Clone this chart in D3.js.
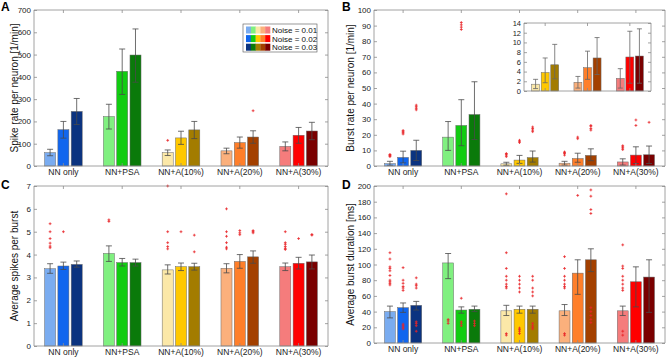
<!DOCTYPE html>
<html>
<head>
<meta charset="utf-8">
<script src="https://cdn.jsdelivr.net/npm/d3@7"></script>
<style>
  body { margin: 0; background: #fff; }
  svg { font-family: "Liberation Sans", Arial, sans-serif; }
</style>
</head>
<body>
<div id="chart"></div>
<script>
// ---- data ----
const groups = ['NN only', 'NN+PSA', 'NN+A(10%)', 'NN+A(20%)', 'NN+A(30%)'];
const noiseLevels = ['Noise = 0.01', 'Noise = 0.02', 'Noise = 0.03'];
const groupColors = [
  ['#7aacf0', '#1166ee', '#0b3380'],
  ['#80f080', '#11cc11', '#0a7a0a'],
  ['#fbe8a8', '#ffc800', '#a37c00'],
  ['#fbb07c', '#ff7f2a', '#a34000'],
  ['#f57c7c', '#ff0000', '#7a0000']
];

// A: spike rate per neuron
const spikeRate     = [[60, 163, 245], [222, 425, 498], [60, 126, 162], [68, 105, 130], [88, 138, 157]];
const spikeRateLow  = [[46, 125, 186], [166, 321, 376], [47, 97, 123], [55, 80, 102], [68, 102, 118]];
const spikeRateHigh = [[75, 200, 303], [277, 525, 615], [72, 156, 200], [80, 130, 158], [108, 173, 196]];
const spikeRateOut  = [[[], [], []], [[], [], []], [[115], [], []], [[], [], [248]], [[], [], []]];

// B: burst rate per neuron
const burstRate     = [[1.5, 5.5, 10], [18.5, 26, 33], [1.4, 3.8, 5.4], [1.8, 4.8, 6.8], [2.6, 7, 7.2]];
const burstRateLow  = [[0.5, 2, 3.5], [10, 13, 17], [0.5, 1.7, 2.5], [0.6, 2.4, 3.4], [0.6, 1.6, 1.6]];
const burstRateHigh = [[3, 9.5, 16.5], [28.5, 42.5, 54], [2.4, 6.8, 9.6], [3, 8.2, 11], [4.6, 12.3, 12.8]];
const burstRateOut  = [
  [[6, 6.6, 7, 7.4], [20.5, 21.3, 22, 22.8], [36, 37, 38, 39]],
  [[], [87.5, 89, 90.5, 92], []],
  [[6, 7, 7.6, 8], [15, 15.8, 16.5], [22, 23, 24, 25]],
  [[7, 8, 8.6, 9], [17.5, 18.5], [23, 24, 25.5, 26]],
  [[10.5, 11.5, 12.2, 13], [26, 29.5], [28]]
];

// C: average spikes per burst
const spikesPerBurst     = [[3.38, 3.5, 3.57], [4.05, 3.65, 3.65], [3.33, 3.47, 3.47], [3.4, 3.7, 3.9], [3.47, 3.62, 3.68]];
const spikesPerBurstLow  = [[3.18, 3.35, 3.45], [3.7, 3.5, 3.5], [3.15, 3.3, 3.32], [3.2, 3.4, 3.62], [3.3, 3.37, 3.37]];
const spikesPerBurstHigh = [[3.6, 3.67, 3.72], [4.38, 3.83, 3.8], [3.55, 3.63, 3.62], [3.6, 4.0, 4.16], [3.63, 3.88, 3.98]];
const spikesPerBurstOut  = [
  [[4.3, 4.37, 4.5, 4.7, 5.0, 5.35], [5.0], []],
  [[5.45, 5.52], [], []],
  [[4.25, 4.35, 4.52, 5.0, 7.0], [5.0], [4.12, 4.85]],
  [[4.25, 4.32, 4.52, 4.8, 5.0, 6.0], [4.87, 4.95, 5.05], [4.95, 5.0, 5.05]],
  [[4.22, 4.27, 4.35, 4.45, 4.52, 5.0], [4.7], [4.85, 4.88]]
];

// D: average burst duration
const burstDuration     = [[40, 45, 48], [102, 42, 43], [41, 43, 43], [41, 89, 106], [41, 78, 84]];
const burstDurationLow  = [[32, 39, 42], [82, 38, 40], [35, 38, 38], [35, 62, 91], [35, 46, 39]];
const burstDurationHigh = [[47, 51, 53], [114, 46, 47], [48, 47, 47], [49, 106, 120], [47, 97, 106]];
const burstDurationOut  = [
  [[74, 76, 78, 80, 86, 92, 95, 97, 107, 115], [18, 20, 22, 24, 67, 70, 72, 76, 80, 96], [15, 22, 25, 27, 70, 73, 75, 83]],
  [[25, 28, 30], [22, 25, 27, 57], [22, 25, 28]],
  [[10, 12, 70, 72, 75, 80, 85, 95, 115, 190], [12, 15, 17, 19, 65, 70, 75, 80, 85], [18, 20, 22, 25, 60, 65, 70, 80, 85]],
  [[10, 12, 70, 72, 75, 80, 85, 95, 110], [188], [26, 30, 35, 40, 45, 165, 170, 187, 195]],
  [[10, 15, 67, 70, 75, 80, 85, 95, 98, 125], [], []]
];

const W = 669, H = 358;
const svg = d3.select('#chart').append('svg')
    .attr('width', W).attr('height', H);

const axisGrey = '#8c8c8c';

function drawPanel(p) {
  // p: {box, letter, letterPos, yLabel, yMax, yStep, mean, low, high, out, groupIdx, xLabels}
  const gIdx = p.groupIdx || d3.range(groups.length);
  const [x0, x1, y0, y1] = p.box;

  const x = d3.scaleBand().domain(gIdx).range([x0, x1]);
  const inner = d3.scaleBand().domain([0, 1, 2])
      .range([x.bandwidth() * 0.18, x.bandwidth() * 0.82]).paddingInner(0.17);
  const y = d3.scaleLinear().domain([0, p.yMax]).range([y1, y0]);

  const g = svg.append('g');

  // white background (the inset covers the main axes)
  g.append('rect').attr('x', x0).attr('y', y0).attr('width', x1 - x0).attr('height', y1 - y0)
      .attr('fill', '#fff');

  // bars
  const cells = [];
  gIdx.forEach(gi => d3.range(3).forEach(k => cells.push({gi, k})));

  g.selectAll('rect.bar').data(cells).join('rect')
      .attr('class', 'bar')
      .attr('x', d => x(d.gi) + inner(d.k))
      .attr('y', d => y(p.mean[d.gi][d.k]))
      .attr('width', inner.bandwidth())
      .attr('height', d => y(0) - y(p.mean[d.gi][d.k]))
      .attr('fill', d => groupColors[d.gi][d.k])
      .attr('stroke', '#6a6a6a').attr('stroke-width', 0.5);

  // error bars
  const cap = p.cap || 3;
  const eb = g.selectAll('g.err').data(cells).join('g').attr('class', 'err')
      .attr('stroke', p.errColor || '#4a4a4a').attr('stroke-width', 0.8);
  const cx = d => x(d.gi) + inner(d.k) + inner.bandwidth() / 2;
  eb.append('line').attr('x1', cx).attr('x2', cx)
      .attr('y1', d => y(p.low[d.gi][d.k])).attr('y2', d => y(p.high[d.gi][d.k]));
  eb.append('line').attr('x1', d => cx(d) - cap).attr('x2', d => cx(d) + cap)
      .attr('y1', d => y(p.low[d.gi][d.k])).attr('y2', d => y(p.low[d.gi][d.k]));
  eb.append('line').attr('x1', d => cx(d) - cap).attr('x2', d => cx(d) + cap)
      .attr('y1', d => y(p.high[d.gi][d.k])).attr('y2', d => y(p.high[d.gi][d.k]));

  // outliers as red '+'
  if (p.out) {
    const pts = [];
    cells.forEach(c => p.out[c.gi][c.k].forEach(v => pts.push({c, v})));
    const s = 1.4;
    const plus = g.selectAll('g.out').data(pts).join('g').attr('class', 'out')
        .attr('transform', d => `translate(${cx(d.c)},${y(d.v)})`)
        .attr('stroke', '#e8262a').attr('stroke-width', 0.8);
    plus.append('line').attr('x1', -s).attr('x2', s);
    plus.append('line').attr('y1', -s).attr('y2', s);
  }

  // axes (MATLAB style: ticks inside, box all round)
  const ticks = d3.range(0, p.yMax + 1e-9, p.yStep);
  const tl = 3;
  const left = g.append('g').attr('transform', `translate(${x0},0)`)
      .call(d3.axisLeft(y).tickValues(ticks).tickSize(-tl).tickPadding(3).tickFormat(d3.format('d')));
  const right = g.append('g').attr('transform', `translate(${x1},0)`)
      .call(d3.axisRight(y).tickValues(ticks).tickSize(-tl).tickFormat(''));
  const bottom = g.append('g').attr('transform', `translate(0,${y1})`)
      .call(d3.axisBottom(x).tickSize(-tl).tickPadding(3)
        .tickFormat(d => p.xLabels ? groups[d] : ''));
  const top = g.append('g').attr('transform', `translate(0,${y0})`)
      .call(d3.axisTop(x).tickSize(-tl).tickFormat(''));
  [left, right, bottom, top].forEach(a => {
    a.select('.domain').attr('stroke', axisGrey).attr('stroke-width', 0.8);
    a.selectAll('.tick line').attr('stroke', axisGrey).attr('stroke-width', 0.8);
    a.selectAll('text').attr('fill', '#222')
        .attr('font-family', '"Liberation Sans", Arial, sans-serif');
  });
  left.selectAll('text').attr('font-size', p.tickFont || 8);
  bottom.selectAll('text').attr('font-size', 8.5);
  left.select('.domain').attr('d', `M0,${y1}V${y0}`);
  right.select('.domain').attr('d', `M0,${y1}V${y0}`);
  bottom.select('.domain').attr('d', `M${x0},0H${x1}`);
  top.select('.domain').attr('d', `M${x0},0H${x1}`);

  if (p.yLabel) {
    g.append('text')
        .attr('transform', `translate(${p.yLabelX},${(y0 + y1) / 2}) rotate(-90)`)
        .attr('text-anchor', 'middle')
        .attr('font-size', 10).attr('fill', '#111')
        .text(p.yLabel);
  }
  if (p.letter) {
    g.append('text').attr('x', p.letterPos[0]).attr('y', p.letterPos[1])
        .attr('font-size', 12).attr('font-weight', 'bold').attr('fill', '#000')
        .text(p.letter);
  }
  return g;
}

// Panel A
drawPanel({
  box: [34, 328, 10, 166], letter: 'A', letterPos: [1, 11],
  yLabel: 'Spike rate per neuron [1/min]', yLabelX: 18,
  yMax: 700, yStep: 100,
  mean: spikeRate, low: spikeRateLow, high: spikeRateHigh, out: spikeRateOut, xLabels: true
});

// legend for panel A
const legend = svg.append('g').attr('transform', 'translate(243,24)');
legend.append('rect').attr('width', 74).attr('height', 28)
    .attr('fill', '#fff').attr('stroke', '#555').attr('stroke-width', 0.6);
const sw = d3.scaleBand().domain(d3.range(groups.length)).range([3, 27]);
noiseLevels.forEach((lab, k) => {
  const row = legend.append('g').attr('transform', `translate(0,${2.5 + k * 8.6})`);
  row.selectAll('rect').data(groupColors).join('rect')
      .attr('x', (d, i) => sw(i)).attr('y', 0)
      .attr('width', sw.bandwidth() + 0.3).attr('height', 7)
      .attr('fill', d => d[k]);
  row.append('text').attr('x', 29).attr('y', 6.5)
      .attr('font-size', 8).attr('fill', '#111').text(lab);
});

// Panel B
drawPanel({
  box: [374, 665, 10, 166], letter: 'B', letterPos: [342, 11],
  yLabel: 'Burst rate per neuron [1/min]', yLabelX: 354,
  yMax: 100, yStep: 10,
  mean: burstRate, low: burstRateLow, high: burstRateHigh, out: burstRateOut, xLabels: true
});

// inset in panel B (the three NN+A groups, zoomed)
drawPanel({
  box: [524, 651, 23, 91], groupIdx: [2, 3, 4],
  yMax: 14, yStep: 2, tickFont: 7.5, cap: 2.5, errColor: '#666',
  mean: burstRate, low: burstRateLow, high: burstRateHigh, xLabels: false
});

// Panel C
drawPanel({
  box: [34, 328, 186, 346], letter: 'C', letterPos: [1, 189],
  yLabel: 'Average spikes per burst', yLabelX: 18,
  yMax: 7, yStep: 1,
  mean: spikesPerBurst, low: spikesPerBurstLow, high: spikesPerBurstHigh, out: spikesPerBurstOut, xLabels: true
});

// Panel D
drawPanel({
  box: [374, 665, 186, 343], letter: 'D', letterPos: [342, 189],
  yLabel: 'Average burst duration [ms]', yLabelX: 354,
  yMax: 200, yStep: 20,
  mean: burstDuration, low: burstDurationLow, high: burstDurationHigh, out: burstDurationOut, xLabels: true
});
</script>
</body>
</html>
